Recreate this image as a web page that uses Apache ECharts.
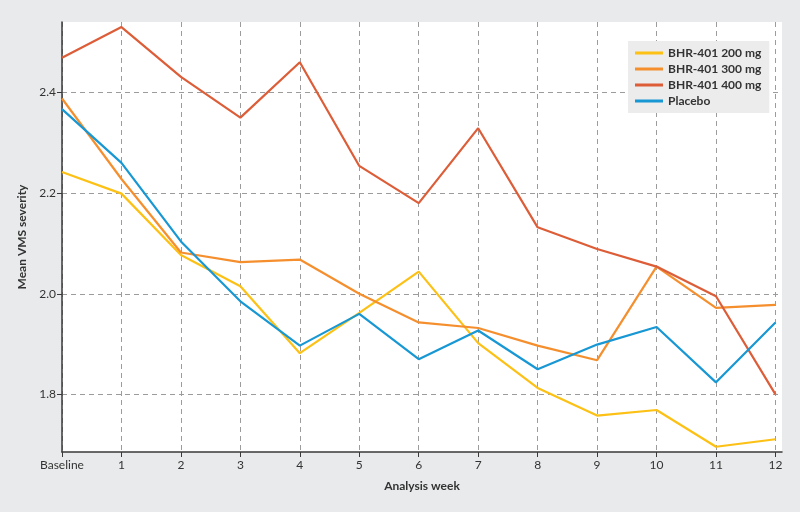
<!DOCTYPE html>
<html>
<head>
<meta charset="utf-8">
<script src="https://cdn.jsdelivr.net/npm/echarts@6/dist/echarts.min.js"></script>
<style>
html,body{margin:0;padding:0;background:#e9eaeb;}
#chart{width:800px;height:512px;}
</style>
</head>
<body>
<div id="chart"></div>
<script>
var categories = ['Baseline','1','2','3','4','5','6','7','8','9','10','11','12'];
var seriesNames = ['BHR-401 200 mg','BHR-401 300 mg','BHR-401 400 mg','Placebo'];
var dose200 = [2.242,2.199,2.077,2.015,1.882,1.962,2.044,1.902,1.813,1.758,1.769,1.696,1.711];
var dose300 = [2.388,2.228,2.082,2.063,2.068,2.000,1.943,1.932,1.897,1.868,2.054,1.972,1.978];
var dose400 = [2.469,2.530,2.431,2.350,2.460,2.254,2.180,2.329,2.132,2.089,2.054,1.995,1.800];
var placebo = [2.367,2.260,2.104,1.985,1.897,1.960,1.870,1.927,1.850,1.899,1.934,1.824,1.943];
var yTicks = [1.8,2.0,2.2,2.4];

var colors = ['#fcc114','#f58f2e','#dc5d37','#1797d3'];
var allData = [dose200,dose300,dose400,placebo];
var gridGray = '#9c9c9c';
var FONT = 'Lato';

function pairs(arr){ return arr.map(function(v,i){ return [i,v]; }); }

var xSplitColors = [];
for (var i=0;i<13;i++) xSplitColors.push(gridGray);
xSplitColors.push('rgba(0,0,0,0)');
var ySplitColors = [gridGray,gridGray,gridGray,gridGray,gridGray,'rgba(0,0,0,0)'];

var chart = echarts.init(document.getElementById('chart'));
chart.setOption({
  backgroundColor: '#e9eaeb',
  animation: false,
  textStyle: {fontFamily: FONT},
  grid: {left: 62, top: 22, right: 18, bottom: 60, show: true, backgroundColor: '#ffffff', borderWidth: 0},
  legend: {
    left: 628, top: 41, orient: 'vertical',
    backgroundColor: '#ececec',
    padding: [5, 8, 5, 7],
    itemWidth: 28, itemHeight: 3, itemGap: 2,
    icon: 'rect',
    textStyle: {fontFamily: FONT, fontSize: 12, fontWeight: 'bold', color: '#333', lineHeight: 14},
    data: seriesNames
  },
  xAxis: {
    type: 'value', min: 0, max: 12.11, splitNumber: 12,
    name: 'Analysis week', nameLocation: 'middle', nameGap: 28,
    nameTextStyle: {fontFamily: FONT, fontSize: 12, fontWeight: 'bold', color: '#333'},
    axisLine: {show: true, onZero: false, lineStyle: {color: '#3a3a3a', width: 1.5}},
    axisTick: {show: true, length: 5, lineStyle: {color: '#3a3a3a'}, customValues: categories.map(function(c,i){return i;})},
    axisLabel: {color: '#333', fontSize: 12, margin: 7, fontFamily: FONT,
      customValues: categories.map(function(c,i){return i;}),
      formatter: function(v){ return categories[Math.round(v)] || ''; }},
    splitLine: {show: true, lineStyle: {color: xSplitColors, type: [5,4], width: 1}}
  },
  yAxis: {
    type: 'value', min: 1.6856, max: 2.54, splitNumber: 5,
    name: 'Mean VMS severity', nameLocation: 'middle', nameGap: 33,
    nameTextStyle: {fontFamily: FONT, fontSize: 12, fontWeight: 'bold', color: '#333'},
    axisLine: {show: true, lineStyle: {color: '#3a3a3a', width: 1.5}},
    axisTick: {show: true, length: 5, lineStyle: {color: '#3a3a3a'}, customValues: yTicks},
    axisLabel: {color: '#333', fontSize: 12, margin: 6, fontFamily: FONT, customValues: yTicks,
      formatter: function(v){ return v.toFixed(1); }},
    splitLine: {show: true, lineStyle: {color: ySplitColors, type: [5,4], width: 1}}
  },
  series: allData.map(function(d,k){
    return {
      name: seriesNames[k], type: 'line', data: pairs(d),
      showSymbol: false, symbol: 'none',
      lineStyle: {color: colors[k], width: 2.2},
      itemStyle: {color: colors[k]},
      z: k === 3 ? 4 : 2
    };
  })
});
</script>
</body>
</html>
